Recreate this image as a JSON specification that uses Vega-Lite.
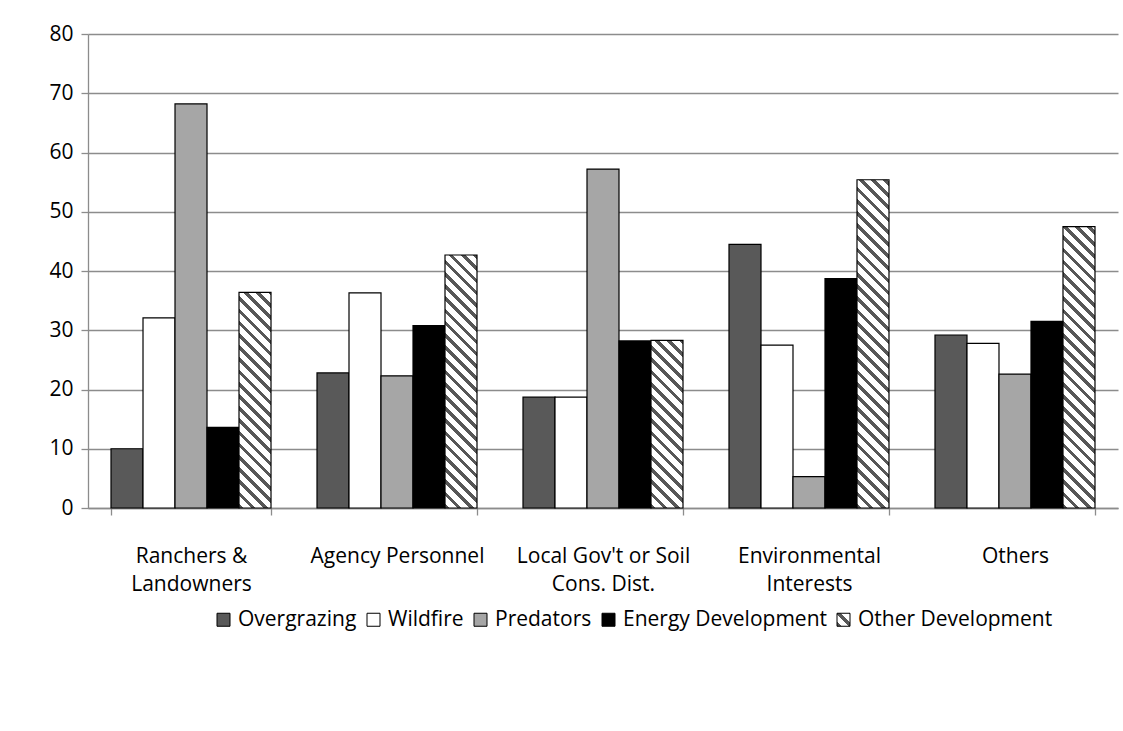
{
  "$schema": "https://vega.github.io/schema/vega-lite/v6.json",
  "autosize": "none",
  "width": 1030,
  "height": 474,
  "padding": {"left": 88, "top": 34, "right": 5, "bottom": 223},
  "background": "white",
  "params": [
    {"name": "hs", "value": [
      {"offset":0,"color":"#575757"},{"offset":0.0127,"color":"#575757"},{"offset":0.0127,"color":"#ffffff"},{"offset":0.0333,"color":"#ffffff"},
      {"offset":0.0333,"color":"#575757"},{"offset":0.046,"color":"#575757"},{"offset":0.046,"color":"#ffffff"},{"offset":0.0667,"color":"#ffffff"},
      {"offset":0.0667,"color":"#575757"},{"offset":0.0793,"color":"#575757"},{"offset":0.0793,"color":"#ffffff"},{"offset":0.1,"color":"#ffffff"},
      {"offset":0.1,"color":"#575757"},{"offset":0.1127,"color":"#575757"},{"offset":0.1127,"color":"#ffffff"},{"offset":0.1333,"color":"#ffffff"},
      {"offset":0.1333,"color":"#575757"},{"offset":0.146,"color":"#575757"},{"offset":0.146,"color":"#ffffff"},{"offset":0.1667,"color":"#ffffff"},
      {"offset":0.1667,"color":"#575757"},{"offset":0.1793,"color":"#575757"},{"offset":0.1793,"color":"#ffffff"},{"offset":0.2,"color":"#ffffff"},
      {"offset":0.2,"color":"#575757"},{"offset":0.2127,"color":"#575757"},{"offset":0.2127,"color":"#ffffff"},{"offset":0.2333,"color":"#ffffff"},
      {"offset":0.2333,"color":"#575757"},{"offset":0.246,"color":"#575757"},{"offset":0.246,"color":"#ffffff"},{"offset":0.2667,"color":"#ffffff"},
      {"offset":0.2667,"color":"#575757"},{"offset":0.2793,"color":"#575757"},{"offset":0.2793,"color":"#ffffff"},{"offset":0.3,"color":"#ffffff"},
      {"offset":0.3,"color":"#575757"},{"offset":0.3127,"color":"#575757"},{"offset":0.3127,"color":"#ffffff"},{"offset":0.3333,"color":"#ffffff"},
      {"offset":0.3333,"color":"#575757"},{"offset":0.346,"color":"#575757"},{"offset":0.346,"color":"#ffffff"},{"offset":0.3667,"color":"#ffffff"},
      {"offset":0.3667,"color":"#575757"},{"offset":0.3793,"color":"#575757"},{"offset":0.3793,"color":"#ffffff"},{"offset":0.4,"color":"#ffffff"},
      {"offset":0.4,"color":"#575757"},{"offset":0.4127,"color":"#575757"},{"offset":0.4127,"color":"#ffffff"},{"offset":0.4333,"color":"#ffffff"},
      {"offset":0.4333,"color":"#575757"},{"offset":0.446,"color":"#575757"},{"offset":0.446,"color":"#ffffff"},{"offset":0.4667,"color":"#ffffff"},
      {"offset":0.4667,"color":"#575757"},{"offset":0.4793,"color":"#575757"},{"offset":0.4793,"color":"#ffffff"},{"offset":0.5,"color":"#ffffff"},
      {"offset":0.5,"color":"#575757"},{"offset":0.5127,"color":"#575757"},{"offset":0.5127,"color":"#ffffff"},{"offset":0.5333,"color":"#ffffff"},
      {"offset":0.5333,"color":"#575757"},{"offset":0.546,"color":"#575757"},{"offset":0.546,"color":"#ffffff"},{"offset":0.5667,"color":"#ffffff"},
      {"offset":0.5667,"color":"#575757"},{"offset":0.5793,"color":"#575757"},{"offset":0.5793,"color":"#ffffff"},{"offset":0.6,"color":"#ffffff"},
      {"offset":0.6,"color":"#575757"},{"offset":0.6127,"color":"#575757"},{"offset":0.6127,"color":"#ffffff"},{"offset":0.6333,"color":"#ffffff"},
      {"offset":0.6333,"color":"#575757"},{"offset":0.646,"color":"#575757"},{"offset":0.646,"color":"#ffffff"},{"offset":0.6667,"color":"#ffffff"},
      {"offset":0.6667,"color":"#575757"},{"offset":0.6793,"color":"#575757"},{"offset":0.6793,"color":"#ffffff"},{"offset":0.7,"color":"#ffffff"},
      {"offset":0.7,"color":"#575757"},{"offset":0.7127,"color":"#575757"},{"offset":0.7127,"color":"#ffffff"},{"offset":0.7333,"color":"#ffffff"},
      {"offset":0.7333,"color":"#575757"},{"offset":0.746,"color":"#575757"},{"offset":0.746,"color":"#ffffff"},{"offset":0.7667,"color":"#ffffff"},
      {"offset":0.7667,"color":"#575757"},{"offset":0.7793,"color":"#575757"},{"offset":0.7793,"color":"#ffffff"},{"offset":0.8,"color":"#ffffff"},
      {"offset":0.8,"color":"#575757"},{"offset":0.8127,"color":"#575757"},{"offset":0.8127,"color":"#ffffff"},{"offset":0.8333,"color":"#ffffff"},
      {"offset":0.8333,"color":"#575757"},{"offset":0.846,"color":"#575757"},{"offset":0.846,"color":"#ffffff"},{"offset":0.8667,"color":"#ffffff"},
      {"offset":0.8667,"color":"#575757"},{"offset":0.8793,"color":"#575757"},{"offset":0.8793,"color":"#ffffff"},{"offset":0.9,"color":"#ffffff"},
      {"offset":0.9,"color":"#575757"},{"offset":0.9127,"color":"#575757"},{"offset":0.9127,"color":"#ffffff"},{"offset":0.9333,"color":"#ffffff"},
      {"offset":0.9333,"color":"#575757"},{"offset":0.946,"color":"#575757"},{"offset":0.946,"color":"#ffffff"},{"offset":0.9667,"color":"#ffffff"},
      {"offset":0.9667,"color":"#575757"},{"offset":0.9793,"color":"#575757"},{"offset":0.9793,"color":"#ffffff"},{"offset":1,"color":"#ffffff"}
    ]}
  ],
  "data": {"values": [
    {"cat": "Ranchers & Landowners", "series": "Overgrazing", "value": 10.0},
    {"cat": "Ranchers & Landowners", "series": "Wildfire", "value": 32.1},
    {"cat": "Ranchers & Landowners", "series": "Predators", "value": 68.2},
    {"cat": "Ranchers & Landowners", "series": "Energy Development", "value": 13.6},
    {"cat": "Ranchers & Landowners", "series": "Other Development", "value": 36.4},
    {"cat": "Agency Personnel", "series": "Overgrazing", "value": 22.8},
    {"cat": "Agency Personnel", "series": "Wildfire", "value": 36.3},
    {"cat": "Agency Personnel", "series": "Predators", "value": 22.3},
    {"cat": "Agency Personnel", "series": "Energy Development", "value": 30.8},
    {"cat": "Agency Personnel", "series": "Other Development", "value": 42.7},
    {"cat": "Local Gov't or Soil Cons. Dist.", "series": "Overgrazing", "value": 18.7},
    {"cat": "Local Gov't or Soil Cons. Dist.", "series": "Wildfire", "value": 18.7},
    {"cat": "Local Gov't or Soil Cons. Dist.", "series": "Predators", "value": 57.2},
    {"cat": "Local Gov't or Soil Cons. Dist.", "series": "Energy Development", "value": 28.2},
    {"cat": "Local Gov't or Soil Cons. Dist.", "series": "Other Development", "value": 28.3},
    {"cat": "Environmental Interests", "series": "Overgrazing", "value": 44.5},
    {"cat": "Environmental Interests", "series": "Wildfire", "value": 27.5},
    {"cat": "Environmental Interests", "series": "Predators", "value": 5.3},
    {"cat": "Environmental Interests", "series": "Energy Development", "value": 38.7},
    {"cat": "Environmental Interests", "series": "Other Development", "value": 55.4},
    {"cat": "Others", "series": "Overgrazing", "value": 29.2},
    {"cat": "Others", "series": "Wildfire", "value": 27.8},
    {"cat": "Others", "series": "Predators", "value": 22.6},
    {"cat": "Others", "series": "Energy Development", "value": 31.5},
    {"cat": "Others", "series": "Other Development", "value": 47.5}
  ]},
  "encoding": {
    "x": {
      "field": "cat", "type": "nominal", "sort": null,
      "scale": {"paddingInner": 0.2233, "paddingOuter": 0.1117},
      "axis": {
        "title": null, "labelAngle": 0, "tickBand": "extent", "tickSize": 7,
        "tickColor": "#8c8c8c", "tickWidth": 1.3, "domainColor": "#8c8c8c", "domainWidth": 1.3,
        "labelPadding": 30, "labelLineHeight": 28, "labelFontSize": 21, "labelColor": "#000000",
        "labelFont": "Open Sans", "labelBaseline": "top", "labelLimit": 400,
        "labelExpr": "datum.value == 'Ranchers & Landowners' ? ['Ranchers &', 'Landowners'] : datum.value == \"Local Gov't or Soil Cons. Dist.\" ? [\"Local Gov't or Soil\", 'Cons. Dist.'] : datum.value == 'Environmental Interests' ? ['Environmental', 'Interests'] : datum.value"
      }
    },
    "xOffset": {
      "field": "series", "type": "nominal",
      "scale": {"domain": ["Overgrazing", "Wildfire", "Predators", "Energy Development", "Other Development"], "paddingInner": 0, "paddingOuter": 0}
    },
    "y": {
      "field": "value", "type": "quantitative",
      "scale": {"domain": [0, 80], "nice": false},
      "axis": {
        "title": null, "values": [0, 10, 20, 30, 40, 50, 60, 70, 80],
        "grid": true, "gridColor": "#8c8c8c", "gridWidth": 1.3,
        "domainColor": "#8c8c8c", "domainWidth": 1.3,
        "tickColor": "#8c8c8c", "tickWidth": 1.3, "tickSize": 7,
        "labelPadding": 8, "labelFontSize": 21, "labelColor": "#000000", "labelFont": "Open Sans"
      }
    }
  },
  "layer": [
    {
      "transform": [{"filter": "datum.series != 'Other Development'"}],
      "mark": {"type": "bar", "stroke": "#000000", "strokeWidth": 1.2},
      "encoding": {
        "fill": {
          "field": "series", "type": "nominal",
          "scale": {
            "domain": ["Overgrazing", "Wildfire", "Predators", "Energy Development", "Other Development"],
            "range": ["#595959", "#ffffff", "#a6a6a6", "#000000", {"expr": "{gradient: 'linear', x1: 0, y1: 1, x2: 14.08, y2: -13.08, stops: hs}"}]
          },
          "legend": {
            "title": null, "orient": "none", "direction": "horizontal",
            "legendX": 125, "legendY": 575,
            "symbolType": "square", "symbolSize": 169,
            "symbolStrokeColor": "#000000", "symbolStrokeWidth": 1,
            "labelFontSize": 21, "labelFont": "Open Sans", "labelColor": "#000000",
            "labelOffset": 4, "columnPadding": 6, "labelLimit": 400
          }
        }
      }
    },
    {
      "transform": [{"filter": "datum.series == 'Other Development'"}],
      "mark": {
        "type": "bar", "stroke": "#000000", "strokeWidth": 1.2,
        "fill": {"expr": "{gradient: 'linear', x1: 0, y1: 1, x2: 32*366/(1024+pow(scale('y',0)-scale('y',datum.value),2)), y2: 1-(scale('y',0)-scale('y',datum.value))*366/(1024+pow(scale('y',0)-scale('y',datum.value),2)), stops: hs}"}
      }
    }
  ],
  "config": {
    "view": {"stroke": null},
    "font": "Open Sans"
  }
}
